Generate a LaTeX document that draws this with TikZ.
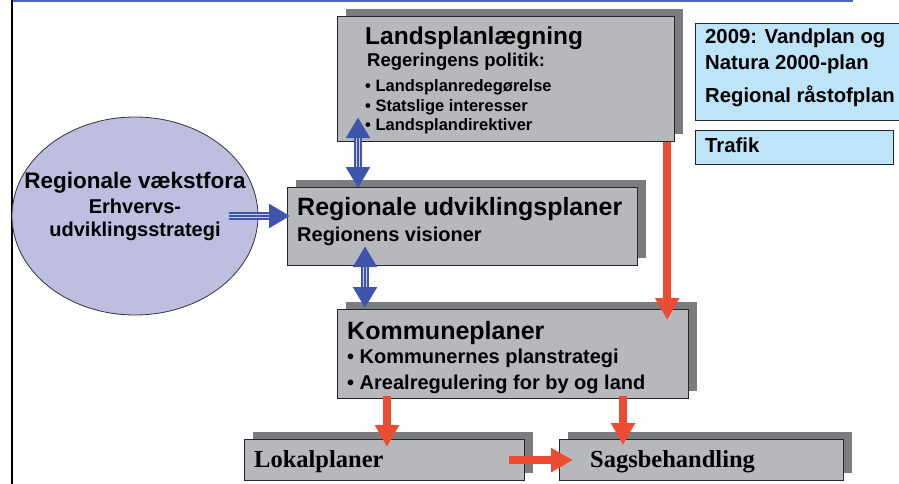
\documentclass[tikz,border=0pt]{standalone}
\usepackage{fontspec}
\setmainfont{Liberation Sans}
\newfontfamily\serifbold{Liberation Serif}
\usetikzlibrary{arrows.meta,shadows,calc,shapes.geometric}
\definecolor{boxgray}{HTML}{B6B8BB}
\definecolor{shgray}{HTML}{7A7C7F}
\definecolor{bluefill}{HTML}{BEE4F8}
\definecolor{lavender}{HTML}{BEBEE0}
\definecolor{redarr}{HTML}{EE4B33}
\definecolor{bluearr}{HTML}{3F55AB}
\definecolor{topline}{HTML}{4A66B5}
\tikzset{
  gbox/.style={draw=black!85, line width=1.2pt, fill=boxgray, inner sep=0pt, anchor=north west,
    general shadow={fill=shgray, shadow xshift=8pt, shadow yshift=8pt}},
  bbox/.style={draw=black!85, line width=1.2pt, fill=bluefill, inner sep=0pt, anchor=north west},
  txt/.style={inner sep=0pt, anchor=base west, font=\bfseries},
  redarrow/.style={draw=redarr, line width=8pt, -{Triangle[width=23pt,length=22pt]}, redarr},
  bluearrow/.style={draw=bluearr, line width=8pt, -{Triangle[width=23pt,length=21pt]}, bluearr},
  bluedbl/.style={draw=bluearr, line width=8pt, {Triangle[width=23pt,length=21pt]}-{Triangle[width=23pt,length=21pt]}, bluearr},
  stripe/.style={draw=white!70!bluearr, line width=1pt}
}
\begin{document}
\begin{tikzpicture}[x=1pt,y=-1pt]
\useasboundingbox (0,0) rectangle (899,484);
\clip (0,0) rectangle (899,484);
% frame lines
\coordinate (tl) at (11,1);
\coordinate (tr) at (853,1);
\coordinate (bl) at (11.5,484);
\draw[topline, line width=2pt] (tl) -- (tr);
\draw[black, line width=2pt] (11.5,0) -- (bl);

% boxes
\node[gbox, minimum width=337pt, minimum height=125pt] (lp) at (337,16) {};
\node[gbox, minimum width=350pt, minimum height=78pt] (rup) at (287,187) {};
\node[gbox, minimum width=351pt, minimum height=89pt] (kp) at (337,309) {};
\node[gbox, minimum width=280pt, minimum height=41pt] (lok) at (244,439) {};
\node[gbox, minimum width=284pt, minimum height=41pt] (sag) at (559,439) {};
\node[bbox, minimum width=210pt, minimum height=97pt] (vp) at (695,23) {};
\node[bbox, minimum width=198pt, minimum height=34pt] (tra) at (695,130) {};
\node[ellipse, draw=black!80, line width=0.8pt, fill=lavender, minimum width=246pt, minimum height=198pt, inner sep=0pt] (ell) at (135,216) {};

% texts
\node[txt, font=\bfseries\fontsize{24.5}{27}\selectfont] (lpt) at (365,45) {Landsplanlægning};
\node[txt, font=\bfseries\fontsize{18.5}{21}\selectfont] (lp1) at (367,67) {Regeringens politik:};
\node[txt, font=\bfseries\fontsize{16.5}{19}\selectfont] (lp2) at (365,92) {• Landsplanredegørelse};
\node[txt, font=\bfseries\fontsize{16.5}{19}\selectfont] (lp3) at (365,112) {• Statslige interesser};
\node[txt, font=\bfseries\fontsize{16.5}{19}\selectfont] (lp4) at (365,131) {• Landsplandirektiver};

\node[txt, font=\bfseries\fontsize{25}{28}\selectfont] (rupt) at (297,215) {Regionale udviklingsplaner};
\node[txt, font=\bfseries\fontsize{20}{23}\selectfont] (rup1) at (297,241) {Regionens visioner};

\node[txt, font=\bfseries\fontsize{25}{28}\selectfont] (kpt) at (347,339) {Kommuneplaner};
\node[txt, font=\bfseries\fontsize{20}{23}\selectfont] (kp1) at (347,363) {• Kommunernes planstrategi};
\node[txt, font=\bfseries\fontsize{20}{23}\selectfont] (kp2) at (347,389) {• Arealregulering for by og land};

\node[txt, font=\serifbold\bfseries\fontsize{24.5}{27}\selectfont] (lokt) at (254,467) {Lokalplaner};
\node[txt, font=\serifbold\bfseries\fontsize{24.5}{27}\selectfont] (sagt) at (590,467) {Sagsbehandling};

\node[txt, anchor=base, font=\bfseries\fontsize{22.5}{25}\selectfont] (el1) at (135,188) {Regionale vækstfora};
\node[txt, anchor=base, font=\bfseries\fontsize{20}{23}\selectfont] (el2) at (135,213) {Erhvervs-};
\node[txt, anchor=base, font=\bfseries\fontsize{20}{23}\selectfont] (el3) at (135,236) {udviklingsstrategi};

\node[txt, font=\bfseries\fontsize{20.3}{23}\selectfont] (vp1) at (705,44) {2009: Vandplan og};
\node[txt, font=\bfseries\fontsize{20.3}{23}\selectfont] (vp2) at (705,70) {Natura 2000-plan};
\node[txt, font=\bfseries\fontsize{20.3}{23}\selectfont] (vp3) at (705,103) {Regional råstofplan};
\node[txt, font=\bfseries\fontsize{20.3}{23}\selectfont] (trat) at (705,153) {Trafik};

% red arrows
\draw[redarrow] ([xshift=-8pt]lp.south east) -- ([xshift=-22pt,yshift=-11pt]kp.north east);
\draw[redarrow] ([xshift=50pt,yshift=3pt]kp.south west) -- ([xshift=143pt,yshift=-8pt]lok.north west);
\draw[redarrow] ([xshift=286pt,yshift=3pt]kp.south west) -- ([xshift=64pt,yshift=-6pt]sag.north west);
\draw[redarrow] ([xshift=-16pt]lok.east) -- ([xshift=14pt]lok.east -| sag.west);

% blue arrows
\coordinate (e1) at ([xshift=-29pt]ell.east);
\coordinate (e2) at ([xshift=3pt]ell.east -| rup.west);
\draw[bluearrow] (e1) -- (e2);
\draw[stripe, shorten >=21pt, transform canvas={yshift=1.6pt}] (e1) -- (e2);
\draw[stripe, shorten >=21pt, transform canvas={yshift=-1.6pt}] (e1) -- (e2);

\coordinate (a1) at ([xshift=21pt,yshift=25pt]lp.south west);
\coordinate (a2) at ([xshift=71pt,yshift=-1pt]rup.north west);
\draw[bluedbl] (a1) -- (a2);
\draw[stripe, shorten >=21pt, shorten <=21pt, transform canvas={xshift=1.6pt}] (a1) -- (a2);
\draw[stripe, shorten >=21pt, shorten <=21pt, transform canvas={xshift=-1.6pt}] (a1) -- (a2);

\coordinate (b1) at ([xshift=78pt,yshift=20pt]rup.south west);
\coordinate (b2) at ([xshift=28pt,yshift=1pt]kp.north west);
\draw[bluedbl] (b1) -- (b2);
\draw[stripe, shorten >=21pt, shorten <=21pt, transform canvas={xshift=1.6pt}] (b1) -- (b2);
\draw[stripe, shorten >=21pt, shorten <=21pt, transform canvas={xshift=-1.6pt}] (b1) -- (b2);
\end{tikzpicture}
\end{document}
